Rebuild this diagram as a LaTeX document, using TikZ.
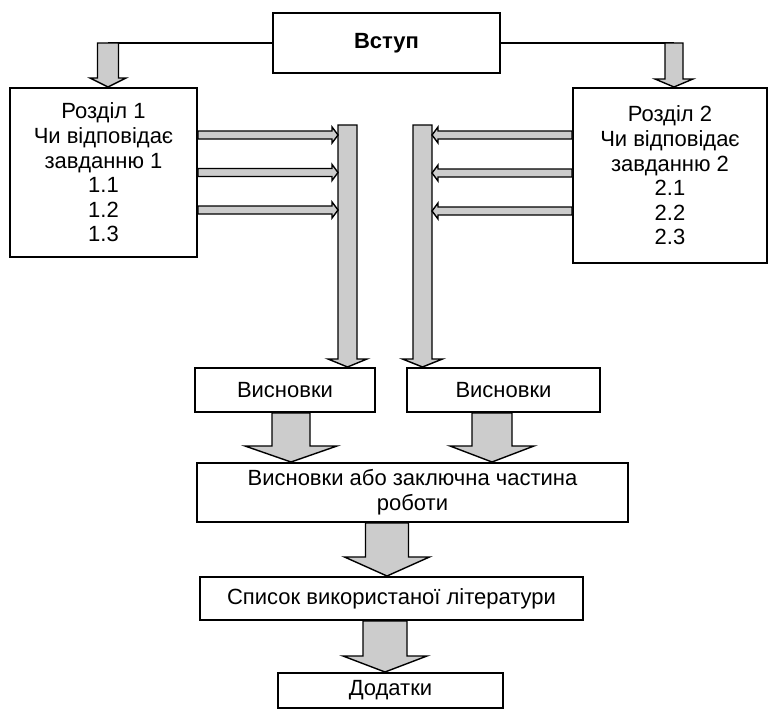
\documentclass[tikz,border=0pt]{standalone}
\usepackage{fontspec}
\setmainfont{Liberation Sans}
\usepackage{tikz}
\usetikzlibrary{calc,positioning}

% fat arrow pointing down: from, to, shaft half width, head half width, head length
\newcommand{\fatdown}[5]{%
  \path[fat] let \p1=(#1), \p2=(#2) in
    (\x1-#3,\y1) -- (\x1+#3,\y1) -- (\x1+#3,\y2+#5) -- (\x1+#4,\y2+#5) --
    (\x1,\y2) -- (\x1-#4,\y2+#5) -- (\x1-#3,\y2+#5) -- cycle;}
% fat arrow left or right
\newcommand{\fathoriz}[5]{%
  \path[fat] let \p1=(#1), \p2=(#2), \n1={sign(\x2-\x1)} in
    (\x1,\y1+#3) -- (\x2-\n1*#5,\y1+#3) -- (\x2-\n1*#5,\y1+#4) --
    (\x2,\y1) -- (\x2-\n1*#5,\y1-#4) -- (\x2-\n1*#5,\y1-#3) -- (\x1,\y1-#3) -- cycle;}

\begin{document}
\begin{tikzpicture}[
    x=0.5pt, y=-0.5pt,
    block/.style={rectangle, draw, line width=1pt, fill=white, inner sep=0pt, align=center,
      font=\fontsize{11}{12.3}\selectfont},
    fat/.style={draw, line width=0.7pt, fill=gray!40, line join=miter},
]
\useasboundingbox (0,0) rectangle (768,712);

\node[block, minimum width=113.5pt, minimum height=30pt] (vstup) at (386.5,43) {\textbf{Вступ}};

% Chapters
\node[block, minimum width=93.5pt, minimum height=84.5pt] (razd1) at (103.5,172.5)
  {Розділ 1\\Чи відповідає\\завданню 1\\1.1\\1.2\\1.3};
\node[block, minimum width=97pt, minimum height=87.5pt] (razd2) at (670,175.5)
  {Розділ 2\\Чи відповідає\\завданню 2\\2.1\\2.2\\2.3};

\node[block, minimum width=90pt, minimum height=22pt] (visn1) at (285,390) {Висновки};
\node[block, minimum width=96.5pt, minimum height=22pt] (visn2) at (503.5,390) {Висновки};

\node[block, minimum width=215.5pt, minimum height=29.5pt] (final) at (412.5,492.5)
  {Висновки або заключна частина\\роботи};
\node[block, minimum width=191.5pt, minimum height=21.5pt] (liter) at (391.5,598.5)
  {Список використаної літератури};
\node[block, minimum width=112.5pt, minimum height=17.5pt] (dodat) at (390.5,690.5) {Додатки};

% from the introduction to the chapters
\coordinate (in1) at ([xshift=2.25pt]razd1.north |- vstup.west);
\coordinate (in2) at ([xshift=2pt]razd2.north |- vstup.east);
\draw[line width=1pt] (vstup.west) -- (in1);
\draw[line width=1pt] (vstup.east) -- (in2);
\fatdown{in1}{razd1.north}{5.25pt}{9pt}{4.5pt}
\fatdown{in2}{razd2.north}{4.5pt}{9.5pt}{4pt}

% collecting bars
\coordinate (bar1) at (347.5,125);
\coordinate (bar2) at (422.5,125);
\fatdown{bar1}{visn1.north}{4.75pt}{9.75pt}{4pt}
\fatdown{bar2}{visn2.north}{4.75pt}{10pt}{4pt}

\foreach \dy in {18.75pt,0pt,-18.75pt}
  {\fathoriz{[yshift=\dy]razd1.east}{[xshift=-4.75pt]bar1}{2pt}{4pt}{3pt}}
\foreach \dy in {20.25pt,1.25pt,-17.75pt}
  {\fathoriz{[yshift=\dy]razd2.west}{[xshift=4.75pt]bar2}{2pt}{4pt}{3pt}}

% down to the end
\fatdown{[xshift=3pt]visn1.south}{final.north}{9.5pt}{23pt}{8pt}
\fatdown{[xshift=-5.75pt]visn2.south}{final.north}{10pt}{21pt}{8pt}
\fatdown{[xshift=-12.75pt]final.south}{liter.north}{10.75pt}{21.25pt}{9.5pt}
\fatdown{[xshift=-3.25pt]liter.south}{dodat.north}{11pt}{21pt}{8pt}

\end{tikzpicture}
\end{document}
